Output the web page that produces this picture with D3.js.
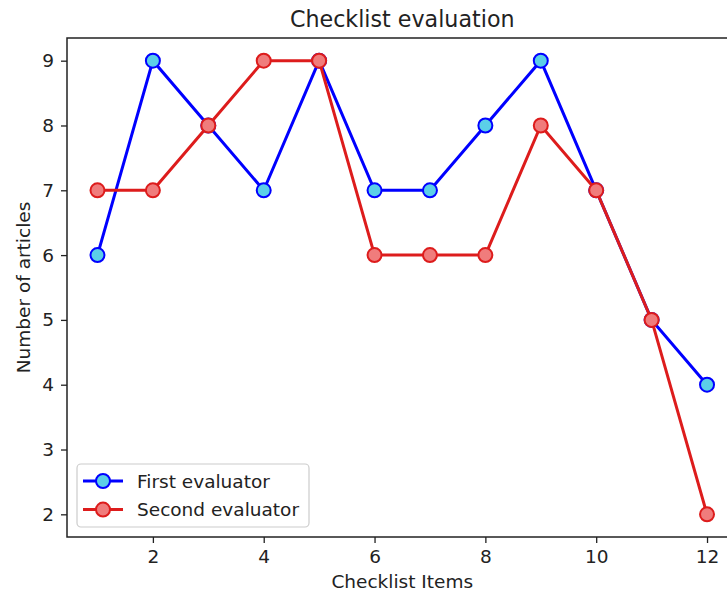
<!DOCTYPE html>
<html><head><meta charset="utf-8">
<script src="https://d3js.org/d3.v7.min.js"></script>
<style>body{margin:0;background:#fff}svg{display:block}text{font-family:"DejaVu Sans",sans-serif;fill:#222}</style>
</head><body>
<script>
const items = [1,2,3,4,5,6,7,8,9,10,11,12];
const firstEvaluator  = [6,9,8,7,9,7,7,8,9,7,5,4];
const secondEvaluator = [7,7,8,9,9,6,6,6,8,7,5,2];
const xTicks = [2,4,6,8,10,12];
const yTicks = [2,3,4,5,6,7,8,9];
const seriesNames = ["First evaluator","Second evaluator"];

const W=727,H=594;
const m={left:67,top:38,right:737.5,bottom:537};
const svg=d3.select("body").append("svg").attr("width",W).attr("height",H);
const x=d3.scaleLinear().domain([0.45,12.55]).range([m.left,m.right]);
const y=d3.scaleLinear().domain([1.65,9.35]).range([m.bottom,m.top]);

const fs=18.5;
const xa=svg.append("g").attr("transform",`translate(0,${m.bottom})`)
  .call(d3.axisBottom(x).tickValues(xTicks).tickSize(6).tickPadding(7));
const ya=svg.append("g").attr("transform",`translate(${m.left},0)`)
  .call(d3.axisLeft(y).tickValues(yTicks).tickSize(6).tickPadding(7));
[xa,ya].forEach(a=>{a.select(".domain").remove();a.selectAll("line").attr("stroke","#222").attr("stroke-width",1.3);
  a.selectAll("text").attr("font-size",fs).attr("font-family","DejaVu Sans").attr("fill","#222");});

svg.append("rect").attr("x",m.left).attr("y",m.top).attr("width",m.right-m.left).attr("height",m.bottom-m.top)
  .attr("fill","none").attr("stroke","#222").attr("stroke-width",1.5);

const series=[
  {name:seriesNames[0],vals:firstEvaluator,line:"#0000ff",fill:"#5bcfe8"},
  {name:seriesNames[1],vals:secondEvaluator,line:"#dd1c1c",fill:"#f07c7c"}
];
const line=d3.line().x((d,i)=>x(items[i])).y(d=>y(d));
series.forEach(s=>{
  svg.append("path").datum(s.vals).attr("d",line).attr("fill","none").attr("stroke",s.line).attr("stroke-width",3);
  svg.selectAll(null).data(s.vals).enter().append("circle")
    .attr("cx",(d,i)=>x(items[i])).attr("cy",d=>y(d)).attr("r",7)
    .attr("fill",s.fill).attr("stroke",s.line).attr("stroke-width",2);
});

svg.append("text").attr("x",(m.left+m.right)/2).attr("y",27).attr("text-anchor","middle").attr("font-size",22.2).text("Checklist evaluation");
svg.append("text").attr("x",(m.left+m.right)/2).attr("y",588).attr("text-anchor","middle").attr("font-size",fs).text("Checklist Items");
svg.append("text").attr("transform",`translate(30,${(m.top+m.bottom)/2}) rotate(-90)`).attr("text-anchor","middle").attr("font-size",fs).text("Number of articles");

const lg=svg.append("g");
lg.append("rect").attr("x",77).attr("y",464).attr("width",232).attr("height",63).attr("rx",4)
  .attr("fill","#fff").attr("fill-opacity",0.8).attr("stroke","#ccc").attr("stroke-width",1.2);
series.forEach((s,i)=>{
  const cy=481+i*28.6;
  lg.append("line").attr("x1",83).attr("x2",123).attr("y1",cy).attr("y2",cy).attr("stroke",s.line).attr("stroke-width",3);
  lg.append("circle").attr("cx",103).attr("cy",cy).attr("r",7).attr("fill",s.fill).attr("stroke",s.line).attr("stroke-width",2);
  lg.append("text").attr("x",137).attr("y",cy+6.5).attr("font-size",fs).text(s.name);
});
</script>
</body></html>
